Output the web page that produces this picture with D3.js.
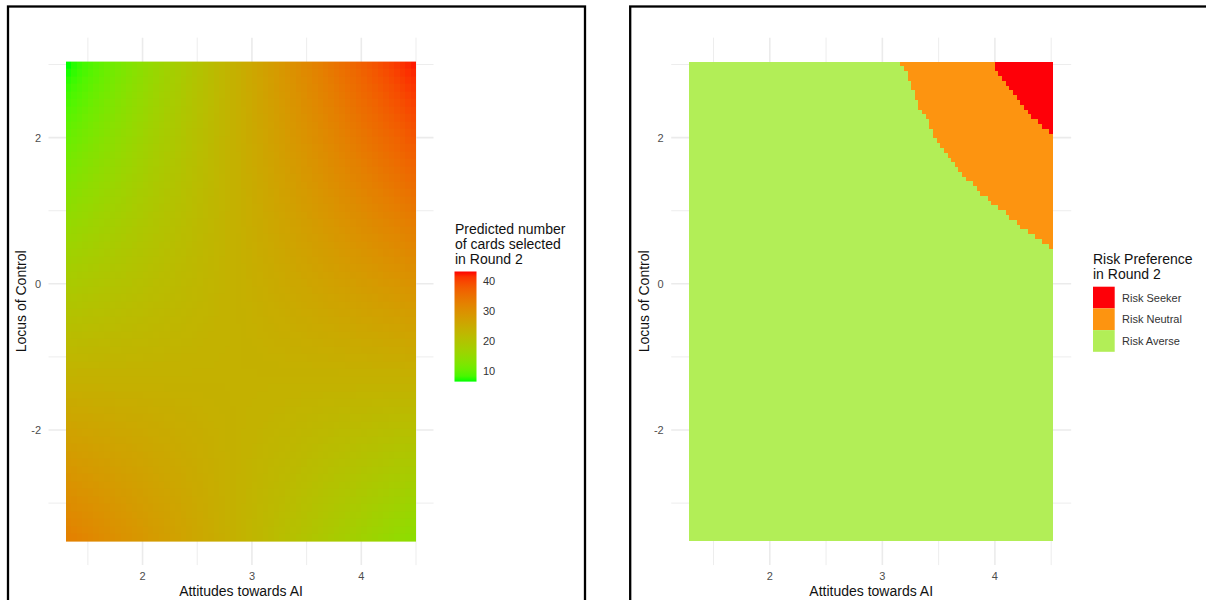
<!DOCTYPE html>
<html>
<head>
<meta charset="utf-8">
<script src="https://cdn.jsdelivr.net/npm/d3@7"></script>
<style>
  html, body { margin: 0; padding: 0; background: #fff; }
  svg { display: block; }
  text { font-family: "Liberation Sans", Arial, Helvetica, sans-serif; }
</style>
</head>
<body>
<svg id="fig" width="1206" height="600"></svg>
<script>
// ---- data -------------------------------------------------------------
// Attitudes towards AI at the columns of the prediction grid
const attitudeNodes = [1.30, 2.10, 2.90, 3.70, 4.50];
// Locus of Control at the rows of the prediction grid (top row first)
const locusNodes = [3.04, 1.40, -0.24, -1.88, -3.52];
// Predicted number of cards selected in Round 2 (rows follow locusNodes)
const predictedCards = [
  [ 6.4, 15.6, 24.9, 34.1, 43.3],
  [13.1, 18.8, 24.5, 30.2, 35.9],
  [19.7, 21.9, 24.1, 26.2, 28.4],
  [26.4, 25.0, 23.7, 22.3, 21.0],
  [33.0, 28.1, 23.3, 18.4, 13.5]
];
const cardLimits = [6.4, 43.3];
const cardTicks = [10, 20, 30, 40];

// Risk preference classes, in legend order
const riskClasses = ["Risk Seeker", "Risk Neutral", "Risk Averse"];
// Neutral/averse boundary, from the top edge down to the right edge (attitude, locus)
const neutralBoundary = [
  [3.16, 3.04], [3.22, 2.85], [3.26, 2.71], [3.32, 2.46], [3.40, 2.24],
  [3.47, 2.01], [3.57, 1.80], [3.68, 1.55], [3.75, 1.44], [3.84, 1.28],
  [3.93, 1.17], [4.02, 1.05], [4.11, 0.94], [4.20, 0.82], [4.28, 0.71],
  [4.37, 0.62], [4.46, 0.53], [4.52, 0.48]
];
// Seeker/neutral boundary, from the top edge down to the right edge
const seekerBoundary = [
  [3.97, 3.04], [4.02, 2.92], [4.08, 2.78], [4.15, 2.62], [4.22, 2.46],
  [4.33, 2.28], [4.43, 2.14], [4.52, 2.05]
];

const xMajor = [2, 3, 4];
const xMinor = [1.5, 2.5, 3.5, 4.5];
const yMajor = [-2, 0, 2];
const yMinor = [-3, -1, 1, 3];

// ---- styling ------------------------------------------------------------
const riskColours = ["#fe0008", "#fd9410", "#b2ee57"];
const gridColour = "#ebebeb";
const tickColour = "#4d4d4d";
const titleSize = 14, labelSize = 11;
const rasterCells = 100;

const svg = d3.select("#fig");

// outer frames
svg.append("rect").attr("x", 8).attr("y", 6.5).attr("width", 577).attr("height", 640)
  .attr("fill", "none").attr("stroke", "#000").attr("stroke-width", 2.3);
svg.append("rect").attr("x", 630.2).attr("y", 6.5).attr("width", 640).attr("height", 640)
  .attr("fill", "none").attr("stroke", "#000").attr("stroke-width", 2.3);

// shared vertical scale
const yScale = d3.scaleLinear().domain([3.04, -3.52]).range([61.6, 541.1]);

function drawFrame(g, x, xExt) {
  const px = [x(xExt[0]), x(xExt[1])];
  const padX = (px[1] - px[0]) * 0.05;
  const py = [yScale(3.04), yScale(-3.52)];
  const padY = (py[1] - py[0]) * 0.05;
  const left = px[0] - padX, right = px[1] + padX;
  const top = py[0] - padY, bottom = py[1] + padY;

  const grid = g.append("g");
  grid.selectAll(".vmin").data(xMinor).join("line")
    .attr("x1", d => x(d)).attr("x2", d => x(d)).attr("y1", top).attr("y2", bottom)
    .attr("stroke", gridColour).attr("stroke-width", 0.9);
  grid.selectAll(".hmin").data(yMinor).join("line")
    .attr("y1", d => yScale(d)).attr("y2", d => yScale(d)).attr("x1", left).attr("x2", right)
    .attr("stroke", gridColour).attr("stroke-width", 0.9);
  grid.selectAll(".vmaj").data(xMajor).join("line")
    .attr("x1", d => x(d)).attr("x2", d => x(d)).attr("y1", top).attr("y2", bottom)
    .attr("stroke", gridColour).attr("stroke-width", 1.6);
  grid.selectAll(".hmaj").data(yMajor).join("line")
    .attr("y1", d => yScale(d)).attr("y2", d => yScale(d)).attr("x1", left).attr("x2", right)
    .attr("stroke", gridColour).attr("stroke-width", 1.6);

  return { left, right, top, bottom };
}

function drawAxes(g, x, box) {
  g.selectAll(".xt").data(xMajor).join("text")
    .attr("x", d => x(d)).attr("y", box.bottom + 11)
    .attr("text-anchor", "middle").attr("dominant-baseline", "central")
    .attr("font-size", labelSize).attr("fill", tickColour).text(d => d);
  g.selectAll(".yt").data(yMajor).join("text")
    .attr("x", box.left - 7.5).attr("y", d => yScale(d))
    .attr("text-anchor", "end").attr("dominant-baseline", "central")
    .attr("font-size", labelSize).attr("fill", tickColour).text(d => d);
  g.append("text")
    .attr("x", (box.left + box.right) / 2).attr("y", box.bottom + 26)
    .attr("text-anchor", "middle").attr("dominant-baseline", "central")
    .attr("font-size", titleSize).attr("fill", "#111").text("Attitudes towards AI");
  const cx = box.left - 27.5, cy = (box.top + box.bottom) / 2;
  g.append("text")
    .attr("transform", `translate(${cx},${cy}) rotate(-90)`)
    .attr("text-anchor", "middle").attr("dominant-baseline", "central")
    .attr("font-size", titleSize).attr("fill", "#111").text("Locus of Control");
}

// ---- left panel: predicted number of cards ------------------------------
{
  const xExt = [1.30, 4.50];
  const x = d3.scaleLinear().domain(xExt).range([66, 416]);
  const g = svg.append("g");
  const box = drawFrame(g, x, xExt);

  const fill = d3.scaleLinear().domain(cardLimits).range(["#00ff00", "#ff0000"])
    .interpolate(d3.interpolateLab);
  const level = d3.scaleLinear().domain(cardLimits).range([0, 255]).clamp(true);

  // grid values are written as grey levels, smoothed to the plotting area by
  // the canvas, then each pixel is recoloured through the fill scale
  const nx = attitudeNodes.length, ny = locusNodes.length;
  const src = document.createElement("canvas");
  src.width = nx; src.height = ny;
  const sctx = src.getContext("2d");
  const img = sctx.createImageData(nx, ny);
  predictedCards.forEach((row, j) => row.forEach((v, i) => {
    const k = (j * nx + i) * 4;
    const q = Math.round(level(v));
    img.data[k] = q; img.data[k + 1] = q; img.data[k + 2] = q; img.data[k + 3] = 255;
  }));
  sctx.putImageData(img, 0, 0);

  const x0 = x(attitudeNodes[0]), x1 = x(attitudeNodes[nx - 1]);
  const y0 = yScale(locusNodes[0]), y1 = yScale(locusNodes[ny - 1]);
  const W = Math.round(x1 - x0), H = Math.round(y1 - y0);
  const cw = W / (nx - 1), ch = H / (ny - 1);
  const dst = document.createElement("canvas");
  dst.width = W; dst.height = H;
  const dctx = dst.getContext("2d");
  dctx.imageSmoothingEnabled = true;
  dctx.imageSmoothingQuality = "low";
  dctx.drawImage(src, -cw / 2, -ch / 2, W + cw, H + ch);

  const palette = d3.range(256).map(q => d3.rgb(fill(level.invert(q))));
  const px = dctx.getImageData(0, 0, W, H);
  for (let k = 0; k < px.data.length; k += 4) {
    const c = palette[px.data[k]];
    px.data[k] = c.r; px.data[k + 1] = c.g; px.data[k + 2] = c.b; px.data[k + 3] = 255;
  }
  dctx.putImageData(px, 0, 0);

  g.append("image")
    .attr("x", x0).attr("y", y0).attr("width", W).attr("height", H)
    .attr("preserveAspectRatio", "none")
    .attr("href", dst.toDataURL());

  drawAxes(g, x, box);

  // colour bar legend
  const lg = svg.append("g");
  ["Predicted number", "of cards selected", "in Round 2"].forEach((t, i) => {
    lg.append("text").attr("x", 455).attr("y", 228.5 + i * 15)
      .attr("dominant-baseline", "central").attr("font-size", titleSize)
      .attr("fill", "#111").text(t);
  });
  const barY = d3.scaleLinear().domain(cardLimits).range([381.6, 271.5]);
  const defs = svg.append("defs");
  const grad = defs.append("linearGradient").attr("id", "cardsBar")
    .attr("x1", 0).attr("y1", 1).attr("x2", 0).attr("y2", 0);
  const stopT = d3.range(0, 1.0001, 0.05);
  grad.selectAll("stop").data(stopT).join("stop")
    .attr("offset", d => d)
    .attr("stop-color", d => fill(cardLimits[0] + d * (cardLimits[1] - cardLimits[0])));
  lg.append("rect").attr("x", 454.5).attr("y", barY(cardLimits[1]))
    .attr("width", 22).attr("height", barY(cardLimits[0]) - barY(cardLimits[1]))
    .attr("fill", "url(#cardsBar)");
  lg.selectAll(".lt").data(cardTicks).join("text")
    .attr("x", 483).attr("y", d => barY(d))
    .attr("dominant-baseline", "central").attr("font-size", labelSize)
    .attr("fill", "#333").text(d => d);
}

// ---- right panel: risk preference ---------------------------------------
{
  const xExt = [1.286, 4.516];
  const x = d3.scaleLinear().domain(xExt).range([689.4, 1053]);
  const g = svg.append("g");
  const box = drawFrame(g, x, xExt);

  const far = 10;
  const close = edge => edge.concat([[far, edge[edge.length - 1][1]], [far, far], [edge[0][0], far]]);
  const seekerPoly = close(seekerBoundary);
  const neutralPoly = close(neutralBoundary);
  const colour = d3.scaleOrdinal().domain(riskClasses).range(riskColours);

  const zExt = [3.04, -3.52];
  const dx = (xExt[1] - xExt[0]) / rasterCells;
  const dz = (zExt[1] - zExt[0]) / rasterCells;

  // classify each raster cell, then draw runs of equal class per row
  const runs = [];
  for (let j = 0; j < rasterCells; j++) {
    const zc = zExt[0] + (j + 0.5) * dz;
    let start = 0, prev = null;
    for (let i = 0; i <= rasterCells; i++) {
      let cls = null;
      if (i < rasterCells) {
        const xc = xExt[0] + (i + 0.5) * dx;
        cls = d3.polygonContains(seekerPoly, [xc, zc]) ? riskClasses[0]
            : d3.polygonContains(neutralPoly, [xc, zc]) ? riskClasses[1]
            : riskClasses[2];
      }
      if (cls !== prev) {
        if (prev !== null) runs.push({ cls: prev, i0: start, i1: i, j });
        start = i; prev = cls;
      }
    }
  }
  g.append("g").attr("shape-rendering", "crispEdges")
    .selectAll("rect").data(runs).join("rect")
    .attr("x", d => x(xExt[0] + d.i0 * dx))
    .attr("width", d => x(xExt[0] + d.i1 * dx) - x(xExt[0] + d.i0 * dx))
    .attr("y", d => yScale(zExt[0] + d.j * dz))
    .attr("height", d => yScale(zExt[0] + (d.j + 1) * dz) - yScale(zExt[0] + d.j * dz))
    .attr("fill", d => colour(d.cls));

  drawAxes(g, x, box);

  const lg = svg.append("g");
  ["Risk Preference", "in Round 2"].forEach((t, i) => {
    lg.append("text").attr("x", 1093).attr("y", 258.5 + i * 15)
      .attr("dominant-baseline", "central").attr("font-size", titleSize)
      .attr("fill", "#111").text(t);
  });
  const key = 21.7;
  lg.selectAll(".key").data(riskClasses).join("rect")
    .attr("x", 1093).attr("y", (d, i) => 286.7 + i * key)
    .attr("width", key).attr("height", key).attr("fill", d => colour(d));
  lg.selectAll(".kl").data(riskClasses).join("text")
    .attr("x", 1122).attr("y", (d, i) => 286.7 + i * key + key / 2)
    .attr("dominant-baseline", "central").attr("font-size", labelSize)
    .attr("fill", "#333").text(d => d);
}
</script>
</body>
</html>
